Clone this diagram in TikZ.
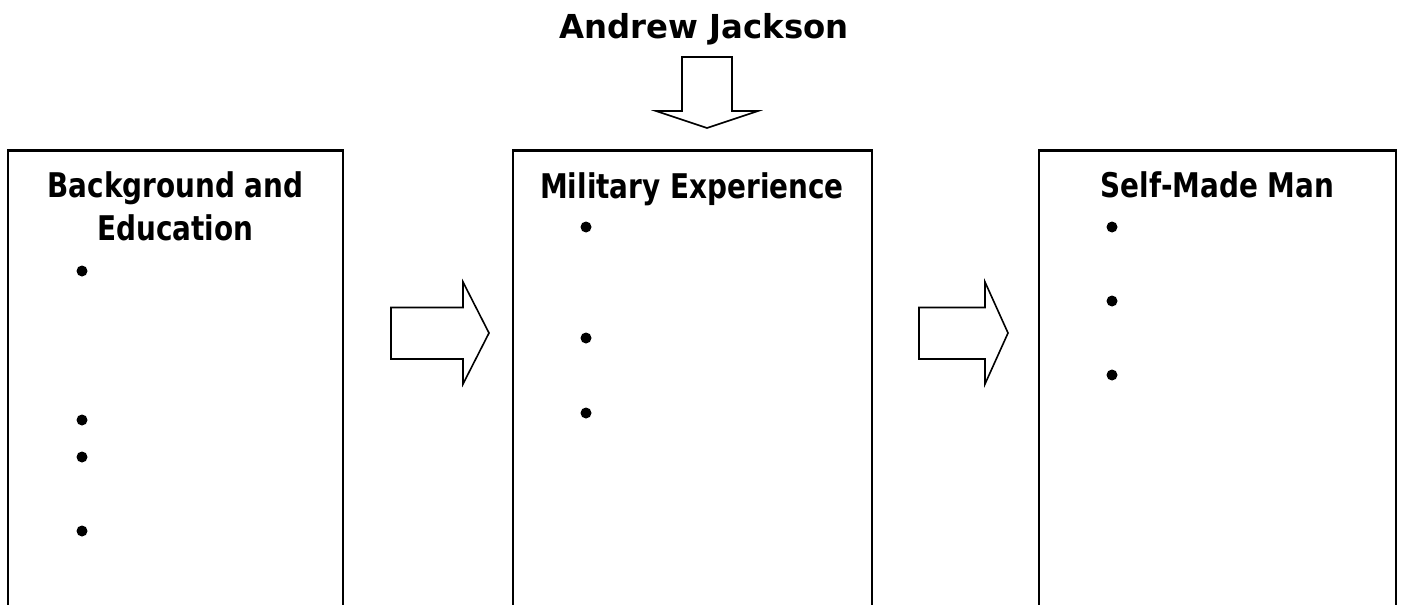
\documentclass[tikz,border=0pt]{standalone}
\usepackage{fontspec}
\setmainfont[FakeStretch=0.82]{DejaVu Sans}
\newfontfamily\titlefont[FakeStretch=0.98]{DejaVu Sans}
\begin{document}
\begin{tikzpicture}[x=1pt,y=-1pt,
  panel/.style={draw=black,line width=2.4pt},
  blockarrow/.style={draw=black,line width=1.6pt,fill=white,line join=miter},
  titletext/.style={font=\titlefont\fontsize{33}{40}\selectfont\bfseries,anchor=base,inner sep=0pt},
  headtext/.style={font=\fontsize{34}{40}\selectfont\bfseries,anchor=base,inner sep=0pt,align=center},
  bulletdot/.style={circle,fill=black,inner sep=0pt,minimum size=11pt}]
\useasboundingbox (0,0) rectangle (1406,605);
\fill[white] (0,0) rectangle (1406,605);
% boxes (cut off at the bottom)
\draw[panel] (8,620) -- (8,150.5) -- (343,150.5) -- (343,620);
\draw[panel] (513,620) -- (513,150.5) -- (872,150.5) -- (872,620);
\draw[panel] (1039,620) -- (1039,150.5) -- (1396,150.5) -- (1396,620);
% title
\node[titletext] (title) at (704,38) {Andrew Jackson};
% down arrow
\draw[blockarrow] (682,57) -- (732,57) -- (732,111) -- (758,111) -- (707,128) -- (656,111) -- (682,111) -- cycle;
% right arrows
\draw[blockarrow] (391,307.5) -- (463,307.5) -- (463,282) -- (489,333) -- (463,384) -- (463,359) -- (391,359) -- cycle;
\draw[blockarrow] (919,307.5) -- (985,307.5) -- (985,282) -- (1008,333) -- (985,384) -- (985,359) -- (919,359) -- cycle;
% headings
\node[headtext] (h1a) at (175.5,197) {Background and};
\node[headtext] (h1b) at (175.5,240) {Education};
\node[headtext] (h2) at (692,198) {Military Experience};
\node[headtext] (h3) at (1217.5,197) {Self-Made Man};
% bullets
\node[bulletdot] (b11) at (82,271) {};
\node[bulletdot] (b12) at (82,420) {};
\node[bulletdot] (b13) at (82,457) {};
\node[bulletdot] (b14) at (82,531) {};
\node[bulletdot] (b21) at (586,227) {};
\node[bulletdot] (b22) at (586,338) {};
\node[bulletdot] (b23) at (586,413) {};
\node[bulletdot] (b31) at (1112,227) {};
\node[bulletdot] (b32) at (1112,301) {};
\node[bulletdot] (b33) at (1112,375) {};
\end{tikzpicture}
\end{document}
